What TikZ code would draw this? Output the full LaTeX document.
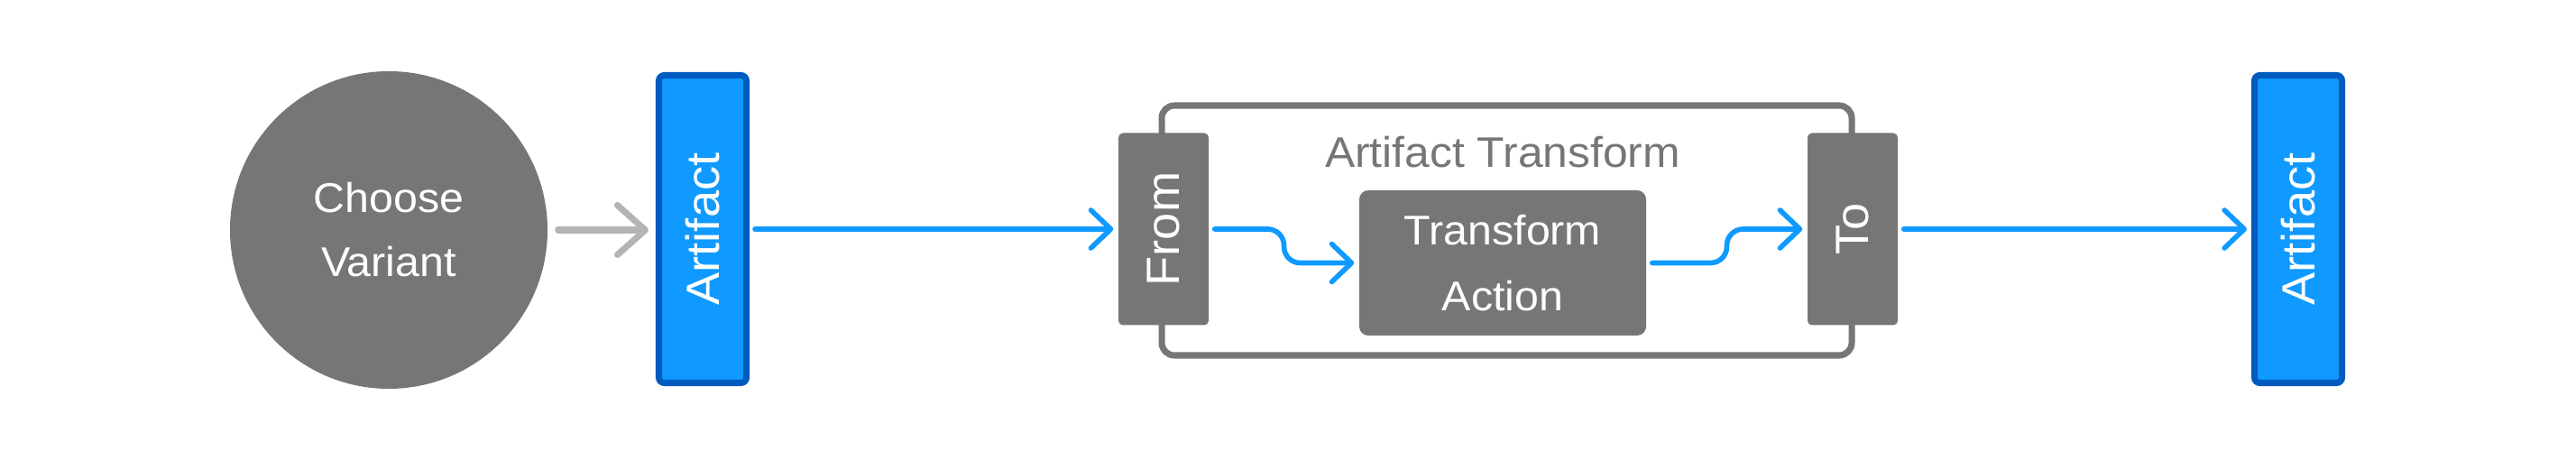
\documentclass[tikz,border=0pt]{standalone}
\usepackage{fontspec}
\setmainfont{Liberation Sans}[FakeStretch=1.05]
\usepackage{graphicx}
\usetikzlibrary{arrows.meta,calc}
\definecolor{boxgray}{RGB}{118,118,118}
\definecolor{artfill}{RGB}{16,154,255}
\definecolor{artborder}{RGB}{0,91,191}
\definecolor{flowblue}{RGB}{16,154,255}
\definecolor{pickgray}{RGB}{180,180,180}

\begin{document}
\begin{tikzpicture}[
 choice/.style={circle,fill=boxgray,minimum size=3.52cm,inner sep=0pt,text=white,align=center,font=\fontsize{13.1}{20.2}\selectfont},
 artifact/.style={draw=artborder,fill=artfill,line width=2pt,rounded corners=0.06cm,minimum width=0.97cm,minimum height=3.41cm,inner sep=0pt,text=white,font=\fontsize{14.7}{17}\selectfont},
 port/.style={fill=boxgray,rounded corners=0.05cm,minimum width=1cm,minimum height=2.13cm,inner sep=0pt,text=white,font=\fontsize{14.7}{17}\selectfont},
 actbox/.style={fill=boxgray,rounded corners=0.1cm,minimum width=3.18cm,minimum height=1.61cm,inner sep=0pt,text=white,align=center,font=\fontsize{13.1}{20.8}\selectfont},
 frame/.style={draw=boxgray,line width=2pt,rounded corners=0.14cm,minimum width=7.65cm,minimum height=2.77cm,inner sep=0pt},
 flow/.style={draw=flowblue,line width=1.6pt,line cap=round,-{Straight Barb[length=0.22cm,width=0.42cm,round]},shorten <=0.06cm,shorten >=0.05cm},
 pick/.style={draw=pickgray,line width=2pt,line cap=round,-{Straight Barb[length=0.31cm,width=0.55cm,round]},shorten <=0.11cm,shorten >=0.08cm}
]
\useasboundingbox (0,0) rectangle (28.56,5);

\node[choice] (choose) at (4.31,2.45) {Choose\\Variant};

\foreach \n/\x in {1/7.79,2/25.48}
{
\node[artifact] (art\n) at (\x,2.46) {\rotatebox{90}{Artifact}};
 }

\node[frame] (transform) at (16.705,2.445) {};
\node[text=boxgray,anchor=base,font=\fontsize{13.5}{16}\selectfont] (transformlabel) at (16.66,3.14) {Artifact Transform};

\foreach \n/\t/\x in {fromport/From/12.90,toport/To/20.54}
{
\node[port] (\n) at (\x,2.46) {\rotatebox{90}{\t}};
 }

\node[actbox] (action) at (16.66,2.085) {Transform\\Action};

\coordinate (bendin) at ($(fromport.east)!0.5!(action.west)$);
\coordinate (bendout) at ($(action.east)!0.5!(toport.west)$);

\draw[pick] (choose.east) -- (choose.east -| art1.west);
\draw[flow] (art1.east) -- (art1.east -| fromport.west);
\draw[flow,rounded corners=0.18cm] (fromport.east) -| (bendin |- action.west) -- (action.west);
\draw[flow,rounded corners=0.18cm] (action.east) -| (bendout |- toport.west) -- (toport.west);
\draw[flow] (toport.east) -- (toport.east -| art2.west);
 \end{tikzpicture}
\end{document}
